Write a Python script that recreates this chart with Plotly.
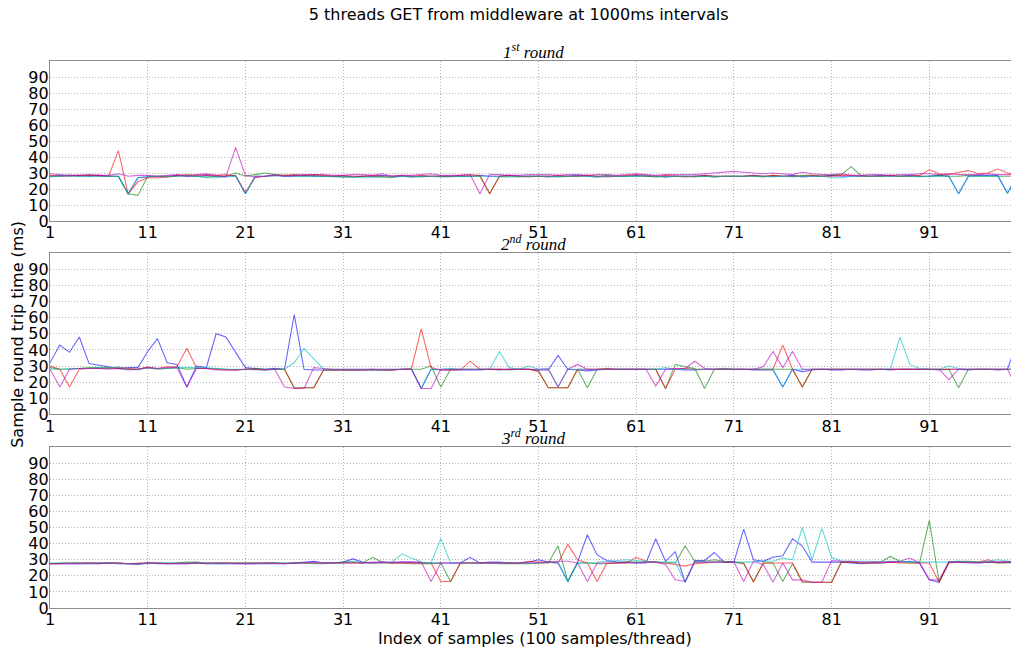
import plotly.graph_objects as go

x_index = list(range(1, 101))
x_ticks = [1, 11, 21, 31, 41, 51, 61, 71, 81, 91]
y_ticks = [0, 10, 20, 30, 40, 50, 60, 70, 80, 90]
round_titles = ["1<sup>st</sup> round", "2<sup>nd</sup> round", "3<sup>rd</sup> round"]
series_names = ["thread 1", "thread 2", "thread 3", "thread 4", "thread 5"]

# ---------------- round 1 ----------------
r1_b = [28, 28.5, 28, 28.5, 28, 28.5, 28, 28, 17, 27,
        27.5, 28, 28, 28.5, 28, 28, 28.5, 28, 28, 28.5,
        17, 28, 28, 28.5, 28, 28, 28.5, 28, 28, 28,
        28, 27.5, 28, 28, 28.5, 28, 28, 27.5, 28, 28,
        28, 28, 28, 28, 28.5, 28, 28, 28.5, 28, 28,
        28, 27.5, 28, 28, 28.5, 28, 27.5, 28, 28, 28,
        28.5, 28, 28, 27.5, 28, 28, 28, 28.5, 28, 28,
        28, 28, 28.5, 28, 28, 28, 28.5, 27.5, 28, 28,
        28.5, 28, 28, 28, 28, 28.5, 28, 28, 28.5, 28,
        28, 28.5, 28, 17, 28, 28.5, 28.5, 28.5, 17.5, 28]
r1_g = [28, 28, 28.5, 28, 28.5, 28, 28, 28, 17, 16,
        28, 28, 27.5, 28, 28.5, 28, 27.5, 28, 28, 30,
        28, 29, 30, 29, 28.5, 28.5, 28, 28.5, 28, 28,
        27.5, 27.5, 28, 28, 27.5, 27, 28, 28, 27.5, 28,
        28, 28, 28, 28, 28, 17, 28, 28, 27.5, 28,
        28, 28, 27.5, 28, 28, 28.5, 28, 28.5, 28, 28,
        28, 28, 27.5, 28, 28, 28, 27.5, 28, 27.5, 28,
        28, 28, 28, 27.5, 28.5, 28, 28, 28.5, 28.5, 28,
        28.5, 29, 34, 28.5, 28, 28, 28.5, 28, 28, 28,
        28, 28.5, 28, 28, 28.5, 28, 28, 28, 28, 28]
r1_r = [28.5, 28, 28.5, 28.5, 28.5, 28.5, 28, 44, 17, 24.5,
        27, 27, 27.5, 28.5, 29, 28.5, 29, 28.5, 29, 28,
        18, 27, 28, 28.5, 28.5, 29, 28.5, 29, 28.5, 28,
        28.5, 28, 28, 28.5, 28, 28, 28.5, 28, 28.5, 28,
        28, 28, 28.5, 29, 28.5, 17, 28, 28.5, 28, 27.5,
        28, 28, 28.5, 28, 28, 28.5, 28, 27.5, 28, 28.5,
        29, 28.5, 28, 28.5, 28, 27.5, 28, 28.5, 28, 28,
        28, 28, 28.5, 28, 28.5, 28, 28, 28, 28.5, 28,
        28, 28.5, 28.5, 28, 28, 28, 28.5, 28, 28, 28.5,
        32, 29.5, 29, 30.5, 31.5, 29.5, 30, 32.5, 30, 29]
r1_c = [27.5, 28, 28.5, 28, 28, 28, 28, 28, 17, 27,
        28, 28, 28, 28, 28.5, 28, 27, 27, 27.5, 28,
        17, 28, 28, 28.5, 28, 28, 28, 28, 28, 27.5,
        27.5, 27.5, 27, 27, 27.5, 27.5, 28, 27.5, 28, 28,
        27.5, 27.5, 28, 28, 28, 28, 27.5, 27.5, 28, 28,
        28, 28, 28, 28, 28, 28, 27.5, 28, 28, 28,
        28, 28.5, 28, 27.5, 28, 28, 28, 28, 27.5, 28,
        28, 28, 28, 28, 27.5, 28, 27.5, 28, 28, 28,
        27, 27, 28, 28, 28, 28, 28, 28, 28, 27.5,
        28, 28, 28, 17, 28, 28, 28, 28, 17, 30]
r1_m = [29.5, 29, 28.5, 28.5, 29, 28.5, 28.5, 29.5, 28, 28.5,
        28.5, 28, 28.5, 29, 28, 29, 29.5, 28.5, 27.5, 46,
        28.5, 27.5, 28, 29, 28, 28.5, 29, 29, 29, 28.5,
        28.5, 29, 29, 28.5, 29.5, 28, 28.5, 28.5, 29, 29.5,
        28.5, 28.5, 28.5, 29, 17, 29, 29, 28.5, 28.5, 29,
        29, 29, 28.5, 29, 29, 28.5, 29, 29, 28.5, 29,
        29.5, 29, 28.5, 29, 29, 29, 29, 29.5, 30, 30.5,
        31, 30.5, 30, 29.5, 30, 29.5, 29, 30.5, 29.5, 29,
        29, 29.5, 28.5, 28.5, 29, 29, 28.5, 29, 29, 29.5,
        29.5, 29, 29.5, 29, 29, 29, 29.5, 29, 29, 29]

# ---------------- round 2 ----------------
r2_b = [32, 43, 38.5, 48, 31.5, 30.5, 29.5, 28.5, 29, 29,
        39, 47, 32, 31, 17, 30, 29, 50, 48, 38.5,
        29, 28.5, 28, 28.5, 28, 62, 28, 27.5, 27.5, 27.5,
        27.5, 27.5, 27.5, 27.5, 27.5, 27.5, 28, 28, 16, 28,
        27.5, 27.5, 27.5, 27.5, 27.5, 28, 27.5, 28, 28, 28,
        27.5, 27.5, 36.5, 28, 27.5, 27, 27.5, 28, 28, 28,
        28, 28, 28, 28, 28, 27.5, 27.5, 28, 28, 28,
        28, 28, 27.5, 27.5, 27.5, 17, 28, 26.5, 27.5, 28,
        27.5, 27.5, 28, 27.5, 27.5, 28, 27.5, 28, 28, 28,
        28, 27.5, 28, 28, 27.5, 28, 28, 27.5, 28, 45]
r2_g = [29, 28, 28, 28.5, 29, 29, 29, 28.5, 28, 28,
        29, 28, 28.5, 29, 28, 28.5, 28.5, 28.5, 28, 27.5,
        28, 28.5, 28, 28, 28, 16.5, 16.5, 16.5, 27.5, 27.5,
        27.5, 27.5, 27.5, 27.5, 27.5, 27.5, 28, 28, 28, 30,
        17, 28, 28, 28, 28, 28, 28, 27.5, 28, 28,
        27, 16.5, 16.5, 16.5, 28, 16.5, 28, 28, 28, 28,
        28, 28, 28, 16, 31, 29.5, 28.5, 16, 28, 28.5,
        28, 28, 28, 28, 28, 28, 28, 17, 28, 28,
        28, 28, 28, 28, 28, 28, 28, 28, 28, 28,
        28, 28, 28, 16.5, 28, 28, 28, 28, 28, 28]
r2_r = [30, 28, 17, 28, 28.5, 28.5, 28.5, 29, 28.5, 28,
        29.5, 28.5, 29.5, 29.5, 41, 29, 28.5, 28, 27.5, 27.5,
        28, 28, 27.5, 28, 28, 16, 16.5, 16.5, 27.5, 27.5,
        27.5, 27.5, 27.5, 28, 27.5, 27.5, 28, 28.5, 53, 29,
        27.5, 27.5, 27.5, 33, 28, 28, 28, 28, 28, 28,
        26.5, 16.5, 16.5, 16.5, 28, 28, 28, 28.5, 28, 28,
        28, 28, 28, 16, 28, 28.5, 28, 28, 28, 28,
        28, 28, 28, 28, 28, 43, 28, 17, 28, 28,
        28, 28, 28, 28, 28, 28, 28, 28, 28, 28,
        28, 28, 28, 28, 28, 28, 28, 28, 28, 28]
r2_c = [28, 28, 28.5, 28.5, 28.5, 29, 28.5, 29.5, 28, 27.5,
        29, 28.5, 28.5, 29, 29, 29, 29, 28.5, 28, 28,
        28, 27.5, 27.5, 28, 28, 32, 41, 34.5, 28, 28,
        28, 28, 28, 28, 28, 28, 28, 28, 16, 28,
        28, 28.5, 28, 28, 28, 28, 39, 29, 28, 30,
        28, 28.5, 17, 28, 28, 28, 28, 28, 28, 28,
        28, 28, 28, 29, 28, 28, 28, 28, 28, 28,
        28, 28, 28, 28, 28, 17, 28, 28, 28, 28,
        28, 28, 28, 28, 28, 28, 28, 48, 31, 28.5,
        28, 28, 30, 28.5, 28, 28, 28, 28, 28, 28]
r2_m = [28, 17, 28, 28.5, 28.5, 28.5, 28, 28.5, 27.5, 28,
        29, 28.5, 29, 29, 17, 28.5, 28.5, 27.5, 27.5, 27.5,
        28, 28, 27.5, 28, 17, 16, 16, 29, 28.5, 28,
        28, 28, 28, 28, 28, 28, 28, 28, 16, 16,
        28, 28, 28, 28, 28, 28, 28, 28, 28, 28,
        28, 28, 17, 28, 31, 28, 28, 28, 28, 28,
        28, 28, 17.5, 28, 28.5, 28.5, 33, 28.5, 28, 28,
        28, 28, 28, 29.5, 39, 29, 39, 28, 28, 28,
        28, 28, 28, 28, 28, 28, 28, 28, 28, 28,
        28, 28, 21.5, 28, 28, 28, 28, 28, 28, 16]

# ---------------- round 3 ----------------
r3_b = [27.5, 27.5, 27.5, 27.5, 27.5, 27.5, 28, 27.5, 27.5, 27,
        28, 27.5, 27.5, 27.5, 27.5, 28, 27.5, 27.5, 27.5, 27.5,
        27.5, 27.5, 27.5, 27.5, 27.5, 28, 28.5, 29, 28, 28,
        28.5, 30.5, 28.5, 28, 28.5, 28, 28.5, 28.5, 28, 28,
        28, 28, 28, 31.5, 28, 28.5, 28.5, 28, 28, 28.5,
        30, 28.5, 28, 16.5, 28.5, 45.5, 33, 29.5, 28.5, 28.5,
        28, 28, 43, 29, 35, 16, 29.5, 29.5, 34.5, 28.5,
        28.5, 49, 30, 29, 31.5, 32.5, 43, 38.5, 28.5, 28.5,
        28.5, 28.5, 28, 27.5, 28, 28, 28.5, 28.5, 29, 28,
        17.5, 16, 28.5, 28.5, 28.5, 28, 28.5, 28.5, 28.5, 28]
r3_g = [27.5, 28, 28, 28, 28, 28, 28, 28, 27.5, 27.5,
        28, 28, 28, 28, 28.5, 28.5, 28, 28, 28, 28,
        28, 28, 28, 28, 28, 28, 28, 27.5, 27.5, 28,
        28.5, 28.5, 28, 31.5, 28.5, 28, 28, 27.5, 27.5, 27.5,
        28, 16.5, 28, 28, 28, 28, 27.5, 27.5, 27.5, 27.5,
        28, 28, 38.5, 16.5, 28, 28, 27.5, 27.5, 28, 28.5,
        28.5, 28.5, 28.5, 28, 28, 38.5, 29, 29, 30, 29,
        28.5, 27.5, 16.5, 28, 28, 16.5, 27.5, 16, 16, 16,
        16, 28.5, 28.5, 28, 28, 28.5, 32, 29, 28, 28,
        54.5, 16, 28.5, 29, 29, 28.5, 28.5, 28, 28, 28.5]
r3_r = [27.5, 27.5, 28, 28, 28, 27.5, 28, 28, 27.5, 28,
        28, 28, 27.5, 28, 28, 28, 27.5, 28, 28, 28,
        28, 28, 28, 28, 27.5, 28, 28, 28, 28, 28,
        28, 28, 28, 28, 28, 28, 28, 28, 28, 28,
        16.5, 16.5, 28, 28, 28, 28, 28, 28, 28, 29,
        28.5, 28.5, 28, 39.5, 30, 28, 16.5, 28, 28, 28,
        31.5, 29, 28.5, 28, 27, 26, 27.5, 28, 28.5, 28.5,
        28.5, 28, 16, 28, 28, 28, 28, 16.5, 16, 16,
        16, 28.5, 28.5, 28, 28, 28, 28.5, 28, 28, 28,
        28, 16, 28, 28.5, 28.5, 28.5, 30, 28, 29, 28]
r3_c = [28, 28, 28, 28, 28, 28, 28, 27.5, 27.5, 27.5,
        27.5, 28, 28, 28, 28, 28, 28, 27.5, 27.5, 28,
        28, 28, 28, 28, 28, 28, 28, 28, 28, 28,
        28, 29, 28, 28, 28, 28.5, 33.5, 31, 28.5, 28,
        43, 28, 28, 28, 28, 28, 28, 28, 28, 28,
        28, 28.5, 28.5, 16.5, 28, 28, 28.5, 29, 29.5, 30,
        29.5, 29, 28.5, 28.5, 28.5, 16, 28.5, 28.5, 28.5, 28.5,
        28.5, 28.5, 28.5, 29, 29, 31, 30, 50, 30, 49.5,
        31.5, 29, 29, 29, 29, 28.5, 29, 29, 28.5, 28.5,
        28.5, 28.5, 28.5, 29, 28.5, 28.5, 29, 30, 29, 29]
r3_m = [27.5, 27.5, 27.5, 27.5, 28, 28, 28, 28, 27.5, 27.5,
        28, 28, 27.5, 27.5, 27.5, 28, 28, 28, 28, 27.5,
        27.5, 27.5, 28, 28, 27.5, 28, 28, 28.5, 28, 28,
        28, 28, 28, 28.5, 28.5, 28.5, 28.5, 28.5, 28.5, 16.5,
        28, 28, 28, 28, 28, 28, 28, 28, 28, 28,
        28, 28.5, 29, 29, 28, 16.5, 28, 28, 28, 28,
        28, 28.5, 28.5, 27, 17.5, 16.5, 28.5, 28.5, 28.5, 28.5,
        28.5, 16.5, 29, 27, 16, 28, 17.5, 17.5, 16, 16,
        29.5, 29, 29, 28.5, 28.5, 28.5, 28.5, 29, 31, 28,
        17.5, 17.5, 28.5, 28.5, 28, 28, 28.5, 28.5, 28.5, 28.5]

rounds = [
    [r1_b, r1_g, r1_r, r1_c, r1_m],
    [r2_b, r2_g, r2_r, r2_c, r2_m],
    [r3_b, r3_g, r3_r, r3_c, r3_m],
]
colors = ["rgba(0,0,255,0.6)", "rgba(0,128,0,0.6)", "rgba(255,0,0,0.6)",
          "rgba(0,191,191,0.6)", "rgba(191,0,191,0.6)"]

fig = go.Figure()
for i, series in enumerate(rounds):
    ax = "" if i == 0 else str(i + 1)
    for j, vals in enumerate(series):
        fig.add_trace(go.Scatter(
            x=x_index, y=vals, mode="lines", name=series_names[j],
            line=dict(color=colors[j], width=1.1),
            xaxis="x" + ax, yaxis="y" + ax, showlegend=False,
        ))

domains = [[0.7075, 1.0], [0.3541, 0.6484], [0.0, 0.2943]]
font_main = "DejaVu Sans"
axis_common = dict(
    showline=True, linecolor="#8c8c8c", linewidth=1.2,
    showgrid=True, gridcolor="#b4b4b4", griddash="1px,2px", gridwidth=1,
    zeroline=False, ticks="", ticklabelstandoff=-3,
    tickfont=dict(family=font_main, size=16, color="black"),
)
layout = dict(
    width=1011, height=649,
    margin=dict(l=50, r=0, t=61, b=41),
    paper_bgcolor="white", plot_bgcolor="white",
    title=dict(text="5 threads GET from middleware at 1000ms intervals",
               x=0.513, xanchor="center", y=0.978, yanchor="middle",
               font=dict(family=font_main, size=16, color="black")),
    showlegend=False,
)
annotations = []
for i in range(3):
    ax = "" if i == 0 else str(i + 1)
    layout["xaxis" + ax] = dict(
        axis_common, domain=[0, 1], range=[1, 99.36], anchor="y" + ax,
        tickvals=x_ticks, ticktext=[str(t) for t in x_ticks], mirror=True,
    )
    layout["yaxis" + ax] = dict(
        axis_common, domain=domains[i], range=[0, 100], anchor="x" + ax,
        tickvals=y_ticks, ticktext=[str(t) for t in y_ticks],
    )
    annotations.append(dict(
        text="<i>" + round_titles[i] + "</i>", xref="paper", yref="paper",
        x=0.503, y=domains[i][1], xanchor="center", yanchor="bottom", yshift=-3,
        showarrow=False, font=dict(family="Liberation Serif", size=17, color="black"),
    ))
annotations.append(dict(
    text="Sample round trip time (ms)", xref="paper", yref="paper",
    x=-0.034, y=0.5, xanchor="center", yanchor="middle", textangle=-90,
    showarrow=False, font=dict(family=font_main, size=16, color="black"),
))
annotations.append(dict(
    text="Index of samples (100 samples/thread)", xref="paper", yref="paper",
    x=0.505, y=-0.034, xanchor="center", yanchor="top",
    showarrow=False, font=dict(family=font_main, size=16, color="black"),
))
layout["annotations"] = annotations
fig.update_layout(**layout)
fig.write_html("out.html", config={"displayModeBar": False},
               post_script="document.body.style.margin='0';document.body.style.overflow='hidden';")
